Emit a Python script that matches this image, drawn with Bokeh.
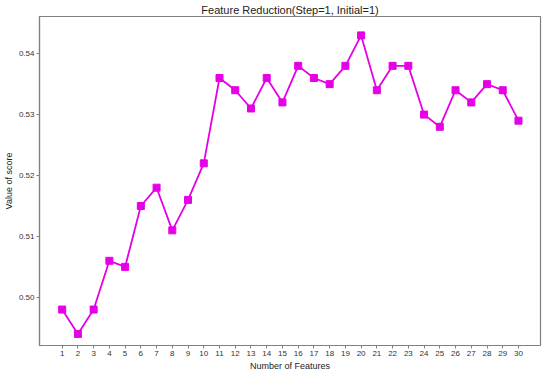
from bokeh.plotting import figure
from bokeh.embed import file_html
from bokeh.resources import INLINE
from bokeh.models import Range1d, FixedTicker, CustomJSTickFormatter

features = list(range(1, 31))
scores = [0.498, 0.494, 0.498, 0.506, 0.505, 0.515, 0.518, 0.511, 0.516, 0.522,
          0.536, 0.534, 0.531, 0.536, 0.532, 0.538, 0.536, 0.535, 0.538, 0.543,
          0.534, 0.538, 0.538, 0.530, 0.528, 0.534, 0.532, 0.535, 0.534, 0.529]
y_ticks = [0.50, 0.51, 0.52, 0.53, 0.54]

COLOR = "#E600E6"
FONT = "Liberation Sans"

p = figure(width=542, height=373, output_backend="svg", toolbar_location=None,
           title="Feature Reduction(Step=1, Initial=1)",
           x_range=Range1d(-0.44, 31.4), y_range=Range1d(0.4921, 0.5461),
           min_border_left=0, min_border_right=2, min_border_top=0, min_border_bottom=0)

p.title.align = "center"
p.title.text_font = FONT
p.title.text_font_size = "11px"
p.title.text_font_style = "normal"
p.title.text_color = "#222222"
p.title.standoff = 2

p.line(features, scores, line_color=COLOR, line_width=1.8)
p.scatter(features, scores, marker="square", size=7, fill_color=COLOR, line_color=COLOR)

p.grid.visible = False
p.outline_line_color = "#808080"
p.outline_line_width = 1.2

p.xaxis.ticker = FixedTicker(ticks=features)
p.yaxis.ticker = FixedTicker(ticks=y_ticks)
p.yaxis.formatter = CustomJSTickFormatter(code="return tick.toFixed(2);")

for ax in (p.xaxis, p.yaxis):
    ax.axis_line_color = "#808080"
    ax.axis_line_width = 1.2
    ax.major_tick_line_color = "#808080"
    ax.major_tick_in = 0
    ax.major_tick_out = 3
    ax.minor_tick_line_color = None
    ax.major_label_text_font = FONT
    ax.major_label_text_font_size = "8px"
    ax.major_label_text_color = "#333333"
    ax.major_label_standoff = 2
    ax.axis_label_text_font = FONT
    ax.axis_label_text_font_size = "9px"
    ax.axis_label_text_font_style = "normal"
    ax.axis_label_text_color = "#222222"
    ax.axis_label_standoff = 2

p.xaxis.axis_label = "Number of Features"
p.yaxis.axis_label = "Value of score"

open("out.html", "w").write(file_html(p, INLINE))
